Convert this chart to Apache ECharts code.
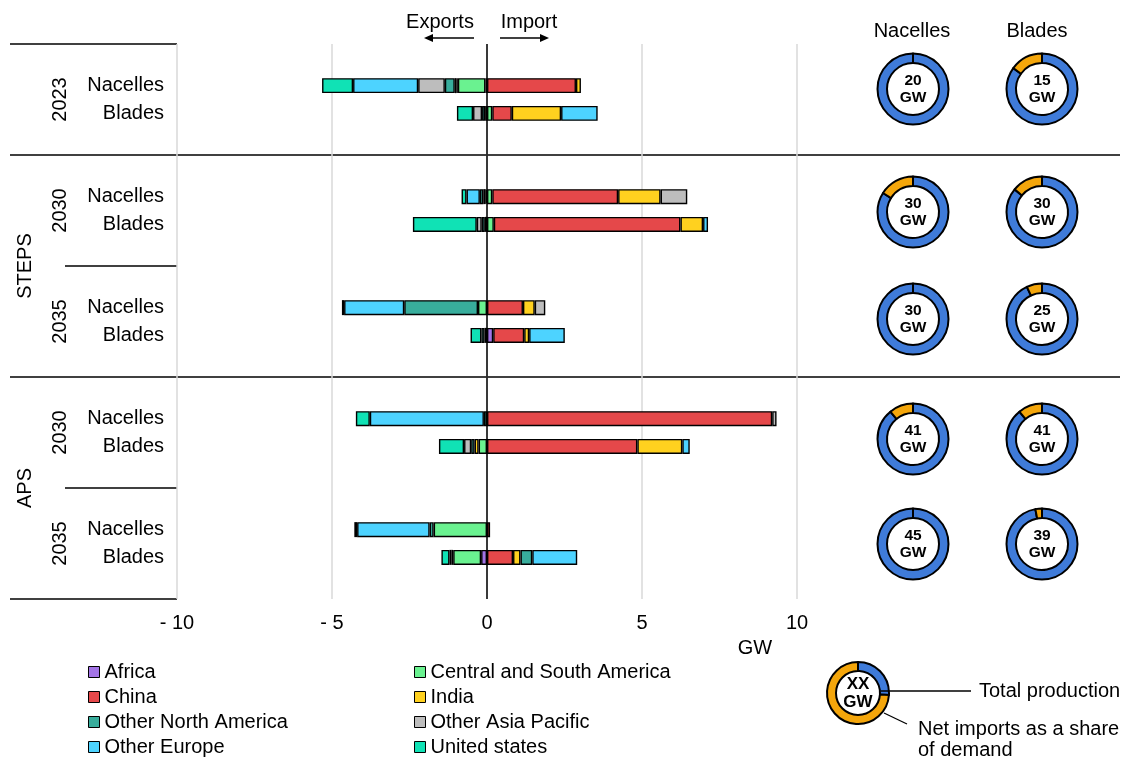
<!DOCTYPE html>
<html><head><meta charset="utf-8">
<script src="https://cdn.jsdelivr.net/npm/echarts@6/dist/echarts.min.js"></script>
<style>html,body{margin:0;padding:0;background:#fff;}#c{width:1123px;height:758px;}</style>
</head><body><div id="c"></div>
<script>
// ---- data ----
const rowLabels = ['Nacelles', 'Blades'];
const groupYears = ['2023', '2030', '2035', '2030', '2035'];
const scenarios = ['STEPS', 'APS'];
const regions = ['Africa', 'Central and South America', 'China', 'India', 'Other North America', 'Other Asia Pacific', 'Other Europe', 'United states'];
// rows: 2023 N, 2023 B, STEPS-2030 N, B, STEPS-2035 N, B, APS-2030 N, B, APS-2035 N, B
const expAfrica = [-0.05, 0, 0, 0, 0, 0, 0, 0, 0, -0.19];
const expCSA    = [-0.89, 0, 0, 0, -0.29, 0, 0, -0.27, -1.72, -0.9];
const expChina  = [-0.05, -0.06, -0.04, -0.07, 0, -0.08, 0, 0, 0, 0];
const expIndia  = [-0.05, 0, -0.08, 0, 0, 0, 0, -0.13, 0, 0];
const expONA    = [-0.32, -0.1, -0.11, -0.1, -2.38, -0.1, -0.1, -0.11, -0.13, -0.06];
const expOAP    = [-0.86, -0.29, 0, -0.16, 0, 0, 0, -0.23, 0, -0.06];
const expOE     = [-2.10, 0, -0.43, 0, -1.94, 0, -3.68, 0, -2.34, 0];
const expUS     = [-1.0, -0.52, -0.16, -2.06, -0.07, -0.35, -0.45, -0.81, -0.09, -0.26];
const impAfrica = [0, 0, 0, 0, 0, 0.2, 0, 0, 0, 0];
const impCSA    = [0, 0.17, 0.17, 0.22, 0, 0, 0, 0, 0, 0];
const impChina  = [2.87, 0.63, 4.06, 6.02, 1.16, 1.0, 9.2, 4.85, 0.1, 0.84];
const impIndia  = [0.16, 1.59, 1.37, 0.73, 0.38, 0.16, 0, 1.45, 0, 0.24];
const impONA    = [0, 0, 0, 0, 0, 0, 0, 0, 0, 0.38];
const impOAP    = [0, 0, 0.86, 0, 0.34, 0, 0.14, 0, 0, 0];
const impOE     = [0, 1.18, 0, 0.16, 0, 1.15, 0, 0.24, 0, 1.45];
const impUS     = [0, 0, 0, 0, 0, 0, 0, 0, 0, 0];
const totalProduction = [20, 15, 30, 30, 30, 25, 41, 41, 45, 39];
const netImportShare  = [0, 15, 16, 14, 0, 7, 11, 11, 0, 3];
const legendDonutShare = 74;
const xTicks = [-10, -5, 0, 5, 10];

// ---- style / layout ----
const FONT = "'Liberation Sans', Arial, sans-serif";
const FS = 20;
const regionColors = ['#a374e6', '#6af290', '#e5484a', '#ffd11f', '#38ad9c', '#bdbdbd', '#4dd3ff', '#10e2b5'];
const BLUE = '#3f7bd9', YELLOW = '#f4a60b';
const gridLeft = 177, gridTop = 44, gridW = 620, gridH = 555;
const nGroups = groupYears.length, slotsPerGroup = 4, gh = gridH / nGroups;
const donutX = [913, 1042];
const donutY = [89, 212, 319, 439, 544];

const expArrays = [expAfrica, expCSA, expChina, expIndia, expONA, expOAP, expOE, expUS];
const impArrays = [impAfrica, impCSA, impChina, impIndia, impONA, impOAP, impOE, impUS];

const nSlots = nGroups * slotsPerGroup;
const catIds = [], catText = [];
for (let g = 0; g < nGroups; g++) {
  for (let s = 0; s < slotsPerGroup; s++) {
    catIds.push('g' + g + 's' + s);
    catText.push(s >= 1 && s <= 2 ? rowLabels[s - 1] : '');
  }
}
function toSlots(arr) {
  const out = new Array(nSlots).fill('-');
  arr.forEach((v, k) => {
    if (v !== 0) { const g = Math.floor(k / 2), r = k % 2; out[g * slotsPerGroup + 1 + r] = v; }
  });
  return out;
}

const series = [];
regions.forEach((name, i) => {
  ['exp', 'imp'].forEach(kind => {
    series.push({
      name: name, type: 'bar', stack: 'all', barWidth: 15,
      data: toSlots(kind === 'exp' ? expArrays[i] : impArrays[i]),
      itemStyle: { color: regionColors[i], borderColor: '#000', borderWidth: 1.4 },
      emphasis: { disabled: true }, silent: true
    });
  });
});
series[0].markLine = {
  silent: true, symbol: ['none', 'none'], label: { show: false },
  lineStyle: { color: '#000', width: 1.5, type: 'solid' },
  data: [{ xAxis: 0 }]
};

function donut(center, radius, share, labelText, fs) {
  return {
    type: 'pie', center: center, radius: radius, startAngle: 90, clockwise: true,
    silent: true, animation: false, emphasis: { disabled: true },
    labelLine: { show: false },
    itemStyle: { borderColor: '#000', borderWidth: 2 },
    data: [
      { value: 100 - share, itemStyle: { color: BLUE },
        label: { show: true, position: 'center', formatter: labelText,
                 fontSize: fs, fontWeight: 'bold', color: '#000', lineHeight: fs + 1, fontFamily: FONT } },
      { value: share, itemStyle: { color: YELLOW }, label: { show: false } }
    ]
  };
}
for (let k = 0; k < totalProduction.length; k++) {
  const g = Math.floor(k / 2), c = k % 2;
  series.push(donut([donutX[c], donutY[g]], [26, 35.5], netImportShare[k], totalProduction[k] + '\nGW', 15.5));
}
series.push(donut([858, 693], [22, 31], legendDonutShare, 'XX\nGW', 17));

// ---- graphics ----
const graphic = [];
function hline(y, x1, x2) {
  graphic.push({ type: 'line', silent: true, shape: { x1: x1, y1: y, x2: x2, y2: y }, style: { stroke: '#000', lineWidth: 1.3 } });
}
for (let g = 0; g <= nGroups; g++) {
  const y = gridTop + g * gh;
  if (g === 1 || g === 3) hline(y, 10, 1120);
  else if (g === 2 || g === 4) hline(y, 65, gridLeft);
  else hline(y, 10, gridLeft);
}
function txt(x, y, text, opts) {
  graphic.push(Object.assign({ type: 'text', silent: true, x: x, y: y,
    style: Object.assign({ text: text, fill: '#000', font: FS + 'px ' + FONT, align: 'center', verticalAlign: 'middle' }, (opts && opts.style) || {}) },
    opts && opts.rotation ? { rotation: opts.rotation } : {}));
}
groupYears.forEach((yr, g) => txt(60, gridTop + gh * (g + 0.5), yr, { rotation: Math.PI / 2 }));
txt(25, gridTop + gh * 2, scenarios[0], { rotation: Math.PI / 2 });
txt(25, gridTop + gh * 4, scenarios[1], { rotation: Math.PI / 2 });
txt(912, 31, rowLabels[0]);
txt(1037, 31, rowLabels[1]);
txt(755, 648, 'GW');
txt(440, 22, 'Exports');
txt(529, 22, 'Import');
// arrows
graphic.push({ type: 'line', silent: true, shape: { x1: 474, y1: 38, x2: 432, y2: 38 }, style: { stroke: '#000', lineWidth: 1.3 } });
graphic.push({ type: 'polygon', silent: true, shape: { points: [[424, 38], [433, 34], [433, 42]] }, style: { fill: '#000' } });
graphic.push({ type: 'line', silent: true, shape: { x1: 500, y1: 38, x2: 541, y2: 38 }, style: { stroke: '#000', lineWidth: 1.3 } });
graphic.push({ type: 'polygon', silent: true, shape: { points: [[549, 38], [540, 34], [540, 42]] }, style: { fill: '#000' } });
// legend donut annotation
graphic.push({ type: 'line', silent: true, z: 10, shape: { x1: 881, y1: 691, x2: 971, y2: 691 }, style: { stroke: '#000', lineWidth: 1.3 } });
graphic.push({ type: 'line', silent: true, z: 10, shape: { x1: 884, y1: 713, x2: 907, y2: 724 }, style: { stroke: '#000', lineWidth: 1.3 } });
txt(979, 691, 'Total production', { style: { align: 'left' } });
txt(918, 729, 'Net imports as a share', { style: { align: 'left' } });
txt(918, 750, 'of demand', { style: { align: 'left' } });

const legendBase = {
  orient: 'vertical', top: 662, height: 100, padding: 0, itemWidth: 11, itemHeight: 11, itemGap: 5, icon: 'rect',
  selectedMode: false, itemStyle: { borderColor: '#000', borderWidth: 1 },
  textStyle: { fontSize: FS, color: '#000', lineHeight: 20, fontFamily: FONT }
};

const chart = echarts.init(document.getElementById('c'), null, { renderer: 'canvas' });
chart.setOption({
  animation: false,
  backgroundColor: '#fff',
  textStyle: { fontFamily: FONT },
  grid: { left: gridLeft, top: gridTop, width: gridW, height: gridH, containLabel: false },
  xAxis: {
    type: 'value', min: xTicks[0], max: xTicks[xTicks.length - 1], interval: xTicks[1] - xTicks[0],
    axisLine: { show: false }, axisTick: { show: false },
    splitLine: { show: true, lineStyle: { color: '#d9d9d9', width: 1.5 } },
    axisLabel: { fontSize: FS, color: '#000', margin: 14, fontFamily: FONT,
      formatter: v => v < 0 ? '- ' + Math.abs(v) : String(v) }
  },
  yAxis: {
    type: 'category', inverse: true, data: catIds,
    axisLine: { show: false, onZero: false }, axisTick: { show: false }, splitLine: { show: false },
    axisLabel: { fontSize: FS, color: '#000', margin: 13, fontFamily: FONT, interval: 0,
      formatter: (v, i) => catText[i] }
  },
  legend: [
    Object.assign({}, legendBase, { left: 88, data: [regions[0], regions[2], regions[4], regions[6]] }),
    Object.assign({}, legendBase, { left: 414, data: [regions[1], regions[3], regions[5], regions[7]] })
  ],
  series: series,
  graphic: graphic
});
</script>
</body></html>
